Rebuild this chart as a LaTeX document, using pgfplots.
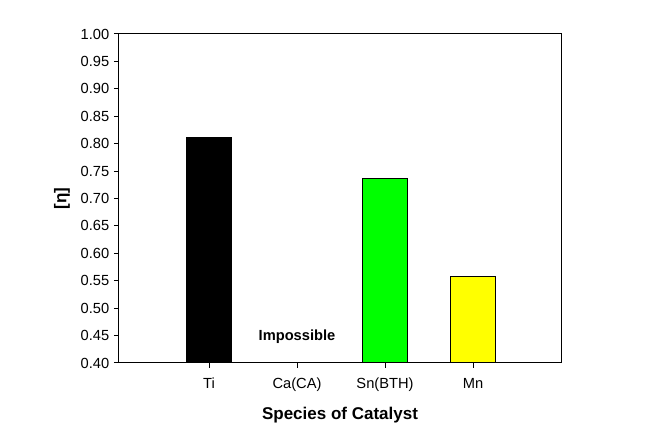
\documentclass[border=0pt]{standalone}
\usepackage{fontspec}
\setmainfont{Liberation Sans}
\usepackage{pgfplots}
\pgfplotsset{compat=1.18}
\definecolor{bargreen}{RGB}{0,255,0}
\definecolor{baryellow}{RGB}{255,255,0}
\begin{document}
\begin{tikzpicture}
\begin{axis}[
  name=ax,
  scale only axis, width=331.5pt, height=246.75pt,
  xmin=-1.023, xmax=4.0, ymin=0.4, ymax=1.0,
  axis line style={line width=0.75pt},
  xtick={0,1,2,3}, xticklabels={Ti,Ca(CA),Sn(BTH),Mn},
  ytick={0.40,0.45,0.50,0.55,0.60,0.65,0.70,0.75,0.80,0.85,0.90,0.95,1.00},
  yticklabel style={/pgf/number format/.cd, fixed, fixed zerofill, precision=2, assume math mode=true},
  xticklabel style={yshift=-4pt},
  tick label style={font=\fontsize{11}{13}\selectfont},
  tick align=outside, major tick length=3.75pt,
  xtick pos=bottom, ytick pos=left,
  every tick/.style={black, line width=0.75pt},
  xlabel={\textbf{Species of Catalyst}},
  ylabel={\textbf{[η]}},
  label style={font=\fontsize{12.75}{15}\selectfont},
  xlabel style={at={(axis description cs:0.5,-0.158)}, anchor=center},
  ylabel style={at={(axis description cs:-0.129,0.5)}, anchor=center},
]
\addplot[ybar, bar width=33.75pt, fill=black, draw=black, line width=0.75pt] coordinates {(0,0.812)};
\addplot[ybar, bar width=33.75pt, fill=bargreen, draw=black, line width=0.75pt] coordinates {(2,0.737)};
\addplot[ybar, bar width=33.75pt, fill=baryellow, draw=black, line width=0.75pt] coordinates {(3,0.557)};
\node[font=\fontsize{11}{13}\selectfont\bfseries] at (axis cs:1,0.448) {Impossible};
\end{axis}
\useasboundingbox ([xshift=-89.25pt,yshift=-55.5pt]ax.south west) rectangle ([xshift=63pt,yshift=25.5pt]ax.north east);
\end{tikzpicture}
\end{document}
